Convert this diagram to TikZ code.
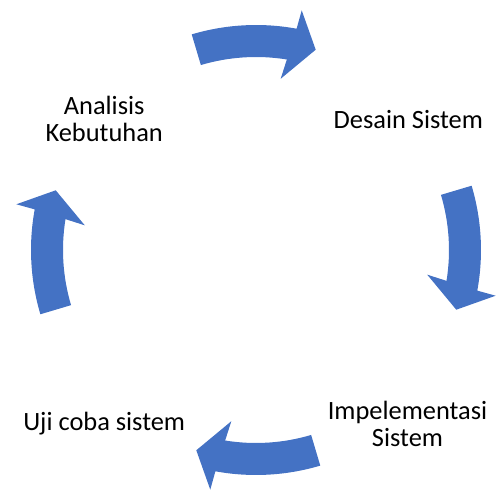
\documentclass[tikz,border=0pt]{standalone}
\usepackage{fontspec}
\setmainfont{Carlito}
\usetikzlibrary{calc}
\definecolor{arrowblue}{RGB}{68,114,196}
\tikzset{
  step label/.style={align=center, inner sep=0pt, text=black,
    font=\fontsize{26.4}{27.4}\selectfont},
  cycle arrow/.style={fill=arrowblue, draw=none}
}

\begin{document}
\begin{tikzpicture}[x=1pt, y=1pt]
        \useasboundingbox (-256,-240) rectangle (240,250);
        \coordinate (c) at (0,0);

        % the four steps
        \node[step label] (analisis) at (-151.8,131) {Analisis\\Kebutuhan};
        \node[step label] (desain) at (152.3,130.7) {Desain Sistem};
        \node[step label] (implementasi) at (151.5,-173.9) {Impelementasi\\Sistem};
        \node[step label] (uji) at (-151.8,-173.5) {Uji coba sistem};

        % one curved arrow per quarter, turned round the centre
        \foreach \r in {0,-90,-180,-270}{
          \begin{scope}[shift={(c)}, rotate=\r]
            \fill[cycle arrow] (106.6:225) arc[start angle=106.6, end angle=79.6, radius=225]
              -- (79.2:244) -- (73.4:209) -- (81.8:173) -- (80.8:193)
              arc[start angle=80.8, end angle=106.6, radius=193] -- cycle;
          \end{scope}
        }
\end{tikzpicture}
\end{document}
